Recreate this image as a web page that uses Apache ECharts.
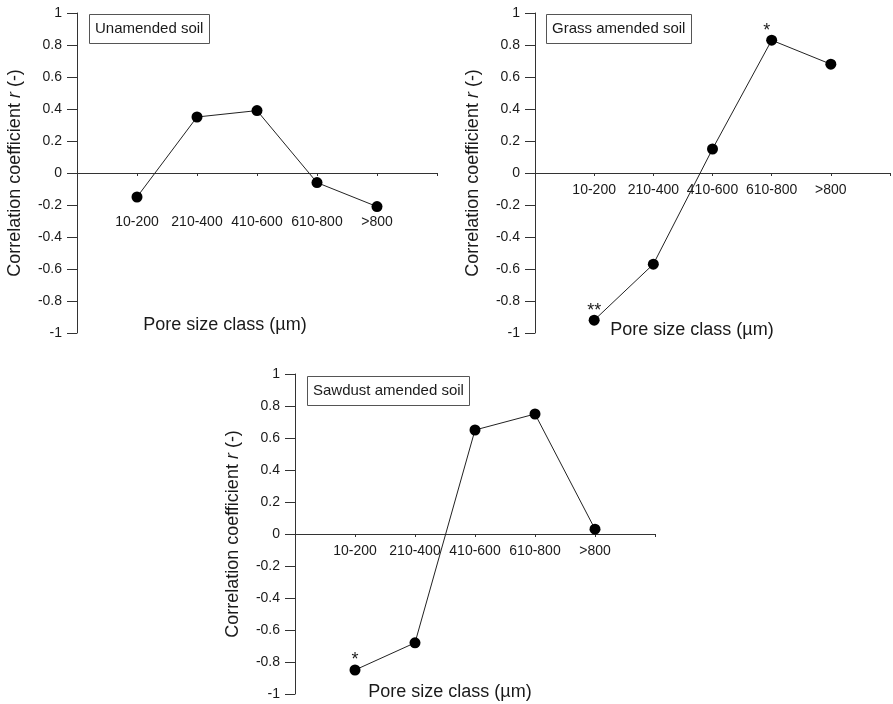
<!DOCTYPE html>
<html>
<head>
<meta charset="utf-8">
<script src="https://cdn.jsdelivr.net/npm/echarts@6/dist/echarts.min.js"></script>
<style>
html,body{margin:0;padding:0;background:#fff;}
#chart{width:893px;height:704px;}
</style>
</head>
<body>
<div id="chart"></div>
<script>
const categories = ['10-200', '210-400', '410-600', '610-800', '>800'];
const unamended = [-0.15, 0.35, 0.39, -0.06, -0.21];
const grass = [-0.92, -0.57, 0.15, 0.83, 0.68];
const sawdust = [-0.85, -0.68, 0.65, 0.75, 0.03];
const unamendedSig = ['', '', '', '', ''];
const grassSig = ['**', '', '', '*', ''];
const sawdustSig = ['*', '', '', '', ''];
const panelTitles = ['Unamended soil', 'Grass amended soil', 'Sawdust amended soil'];
const yAxisTitle = 'Correlation coefficient {i|r} (-)';
const xAxisTitle = 'Pore size class (µm)';

const FONT = '"Liberation Sans", Arial, sans-serif';
const INK = '#1a1a1a';

const grids = [
  {left: 77, top: 13, width: 360, height: 320},
  {left: 535, top: 13, width: 360, height: 320},
  {left: 295, top: 374, width: 360, height: 320}
];
const labelMargins = [42, 10, 10];
const titlePos = [{left: 89, top: 14}, {left: 546, top: 14}, {left: 307, top: 376}];
const xTitlePos = [[225, 325], [692, 330], [450, 692]];
const seriesData = [unamended, grass, sawdust];
const sigData = [unamendedSig, grassSig, sawdustSig];

const chart = echarts.init(document.getElementById('chart'), null, {renderer: 'canvas'});

const option = {
  backgroundColor: '#fff',
  animation: false,
  grid: grids.map(g => Object.assign({containLabel: false}, g)),
  title: panelTitles.map((t, i) => ({
    text: t,
    left: titlePos[i].left,
    top: titlePos[i].top,
    padding: [7, 6],
    borderColor: '#555',
    borderWidth: 1,
    textStyle: {fontFamily: FONT, fontSize: 15, fontWeight: 'normal', color: INK, lineHeight: 16}
  })),
  xAxis: grids.map((g, i) => ({
    type: 'value',
    gridIndex: i,
    position: 'bottom',
    offset: -g.height / 2,
    min: 0,
    max: 6,
    interval: 1,
    axisLine: {show: true, onZero: false, lineStyle: {color: '#333', width: 1}},
    axisTick: {show: true, length: 3, inside: false, lineStyle: {color: '#333'}},
    splitLine: {show: false},
    axisLabel: {
      show: true,
      margin: labelMargins[i],
      fontFamily: FONT,
      fontSize: 14,
      color: INK,
      formatter: v => (v >= 1 && v <= categories.length) ? categories[v - 1] : ''
    }
  })),
  yAxis: grids.map((g, i) => ({
    type: 'value',
    gridIndex: i,
    min: -1,
    max: 1,
    interval: 0.2,
    name: yAxisTitle,
    nameLocation: 'middle',
    nameGap: 53,
    nameMoveOverlap: false,
    nameRotate: 90,
    nameTextStyle: {
      fontFamily: FONT, fontSize: 18, color: INK,
      rich: {i: {fontFamily: FONT, fontSize: 18, fontStyle: 'italic', color: INK}}
    },
    axisLine: {show: true, onZero: false, lineStyle: {color: '#333', width: 1}},
    axisTick: {show: true, length: 10, lineStyle: {color: '#333'}},
    splitLine: {show: false},
    axisLabel: {
      margin: 15,
      fontFamily: FONT,
      fontSize: 14,
      color: INK,
      formatter: v => String(Math.round(v * 10) / 10)
    }
  })),
  series: seriesData.map((vals, i) => ({
    type: 'line',
    xAxisIndex: i,
    yAxisIndex: i,
    data: vals.map((v, k) => ({
      value: [k + 1, v],
      label: {
        show: sigData[i][k] !== '',
        formatter: sigData[i][k],
        offset: (i === 1 && k === 3) ? [-5, 0] : [0, 0]
      }
    })),
    symbol: 'circle',
    symbolSize: 11,
    lineStyle: {color: '#222', width: 1},
    itemStyle: {color: '#000'},
    label: {
      position: 'top',
      distance: -5,
      fontFamily: FONT,
      fontSize: 18,
      color: INK
    },
    z: 3
  })),
  graphic: xTitlePos.map(p => ({
    type: 'text',
    x: p[0],
    y: p[1],
    style: {
      text: xAxisTitle,
      fill: INK,
      font: '18px ' + FONT,
      align: 'center',
      verticalAlign: 'middle'
    }
  }))
};

chart.setOption(option);
</script>
</body>
</html>
